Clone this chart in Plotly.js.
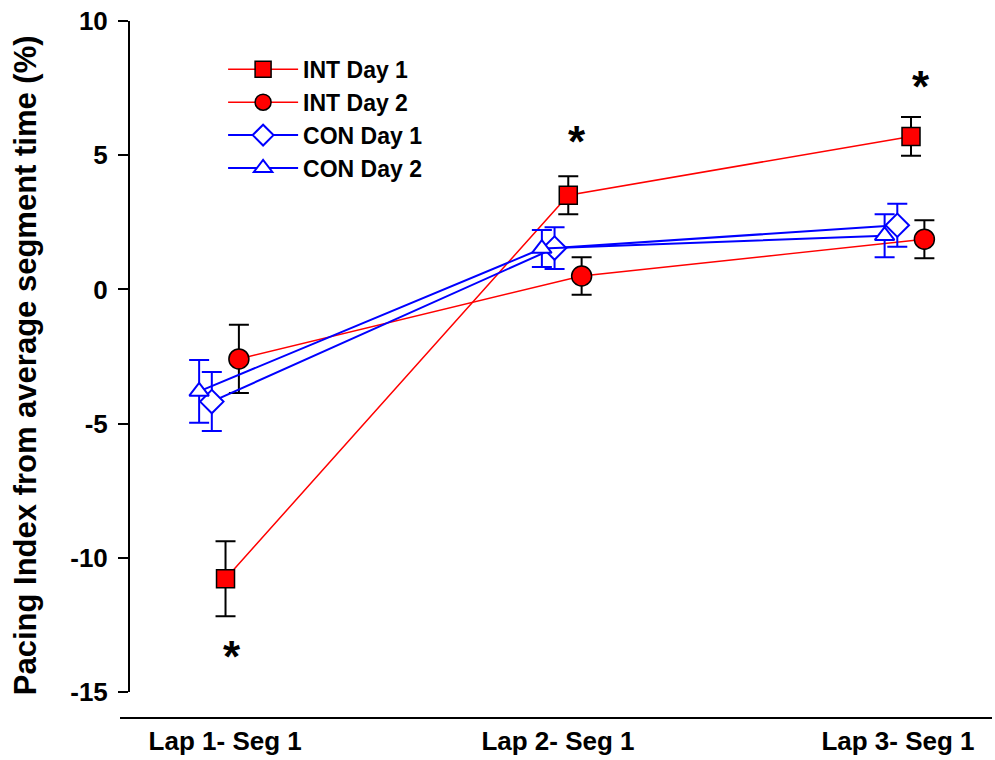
<!DOCTYPE html>
<html>
<head>
<meta charset="utf-8">
<script src="https://cdn.plot.ly/plotly-3.0.1.min.js"></script>
<style>html,body{margin:0;padding:0;background:#fff;}#chart{width:995px;height:760px;}</style>
</head>
<body>
<div id="chart"></div>
<script>
// Category positions (lap index) and tick labels
const lapPos = [1, 2, 3];
const tickPos = [1.018, 1.989, 2.981];
const tickLabels = ["Lap 1- Seg 1", "Lap 2- Seg 1", "Lap 3- Seg 1"];

// Y tick values and labels (hyphen minus as in the original)
const yTickVals = [-15, -10, -5, 0, 5, 10];
const yTickText = ["-15", "-10", "-5", "0", "5", "10"];
const yTitle = 'Pacing Index from average segment time (%)';

// Series values (pacing index, %) and SEM
const intDay1 = [-10.78, 3.51, 5.70];
const intDay1Err = [1.40, 0.71, 0.72];
const intDay2 = [-2.59, 0.50, 1.87];
const intDay2Err = [1.27, 0.70, 0.71];
const conDay1 = [-4.18, 1.54, 2.39];
const conDay1Err = [1.10, 0.78, 0.80];
const conDay2 = [-3.80, 1.52, 2.00];
const conDay2Err = [1.17, 0.69, 0.80];

// Horizontal jitter per series (lap units)
const offsets = {intDay1: 0.019, intDay2: 0.058, conDay1: -0.021, conDay2: -0.058};

// Significance markers
const starX = [1.038, 2.044, 3.048];
const starY = [-13.45, 5.75, 7.8];

const shift = (o) => lapPos.map(v => v + o);

const red = '#ff0000', blue = '#0000ff';

const traces = [
  {name: 'INT Day 1', x: shift(offsets.intDay1), y: intDay1, type: 'scatter', mode: 'lines+markers',
   line: {color: red, width: 1.5},
   marker: {symbol: 'square', size: 18, color: red, line: {color: '#000', width: 1.5}},
   error_y: {type: 'data', array: intDay1Err, visible: true, color: '#000', thickness: 2, width: 10}},
  {name: 'INT Day 2', x: shift(offsets.intDay2), y: intDay2, type: 'scatter', mode: 'lines+markers',
   line: {color: red, width: 1.5},
   marker: {symbol: 'circle', size: 20, color: red, line: {color: '#000', width: 1.5}},
   error_y: {type: 'data', array: intDay2Err, visible: true, color: '#000', thickness: 2, width: 10}},
  {name: 'CON Day 1', x: shift(offsets.conDay1), y: conDay1, type: 'scatter', mode: 'lines+markers',
   line: {color: blue, width: 2},
   marker: {symbol: 'diamond', size: 18, color: '#fff', line: {color: blue, width: 2}},
   error_y: {type: 'data', array: conDay1Err, visible: true, color: blue, thickness: 2, width: 10}},
  {name: 'CON Day 2', x: shift(offsets.conDay2), y: conDay2, type: 'scatter', mode: 'lines+markers',
   line: {color: blue, width: 2},
   marker: {symbol: 'triangle-up', size: 17, color: '#fff', line: {color: blue, width: 2}},
   error_y: {type: 'data', array: conDay2Err, visible: true, color: blue, thickness: 2, width: 10}}
];

const font = 'Arial, "Liberation Sans", sans-serif';

const annotations = starX.map((x, i) => ({x: x, y: starY[i], xref: 'x', yref: 'y', text: '*', showarrow: false,
            font: {family: font, size: 44, color: '#000', weight: 'bold'}, yanchor: 'middle', yshift: -6}));
annotations.push({text: yTitle, xref: 'paper', yref: 'paper', x: -0.1218, y: 0.487, textangle: -90,
            xanchor: 'center', yanchor: 'middle', showarrow: false,
            font: {family: font, size: 31, color: '#000', weight: 'bold'}});

const layout = {
  width: 995, height: 760,
  margin: {l: 130, r: 3, t: 21, b: 68},
  paper_bgcolor: '#fff', plot_bgcolor: '#fff',
  showlegend: true,
  legend: {x: 0.108, y: 0.96, xanchor: 'left', yanchor: 'top', bgcolor: 'rgba(0,0,0,0)',
           font: {family: font, size: 23, color: '#000', weight: 'bold'}, itemwidth: 70, tracegroupgap: 0},
  xaxis: {range: [0.7403, 3.2553], showgrid: false, zeroline: false, showline: false,
          tickmode: 'array', tickvals: tickPos, ticktext: tickLabels,
          ticks: 'outside', ticklen: 26, tickcolor: 'rgba(0,0,0,0)',
          tickfont: {family: font, size: 26, color: '#000', weight: 'bold'}},
  yaxis: {range: [-15, 10], showgrid: false, zeroline: false, showline: true, linecolor: '#000', linewidth: 2,
          ticks: 'outside', ticklen: 10, tickwidth: 2, tickcolor: '#000',
          tickmode: 'array', tickvals: yTickVals, ticktext: yTickText, ticklabelstandoff: 5,
          tickfont: {family: font, size: 26, color: '#000', weight: 'bold'}},
  shapes: [{type: 'line', xref: 'paper', yref: 'paper', x0: -0.0116, x1: 1, y0: -0.0387, y1: -0.0387,
            line: {color: '#000', width: 2}}],
  annotations: annotations
};

Plotly.newPlot('chart', traces, layout, {displayModeBar: false, staticPlot: true});
</script>
</body>
</html>
